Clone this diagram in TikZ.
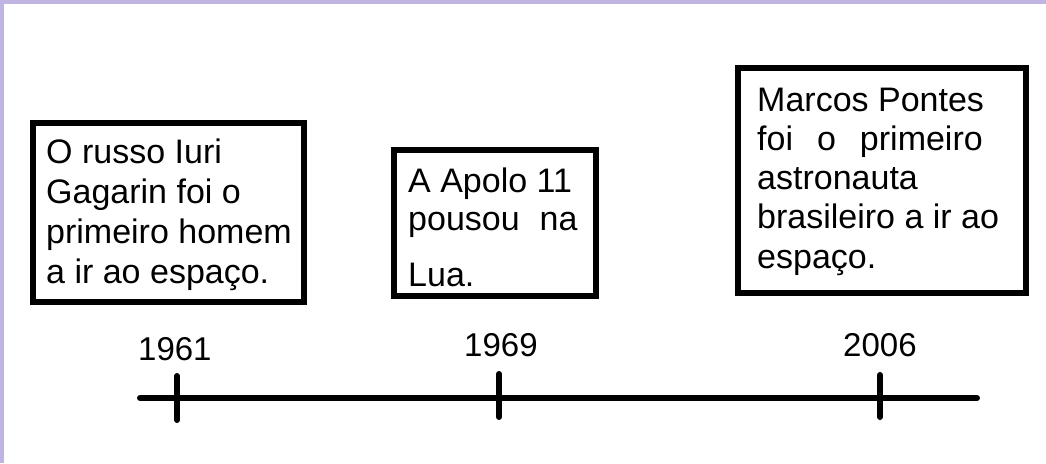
\documentclass[tikz,border=0pt]{standalone}
\usepackage{fontspec}
\setmainfont{Liberation Sans}
\definecolor{lavender}{RGB}{192,180,226}
\begin{document}
\begin{tikzpicture}[x=1pt,y=-1pt,
  eventbox/.style={draw=black,line width=6pt,fill=white,rectangle,inner sep=0pt},
  boxtext/.style={anchor=base west,inner sep=0pt,font=\fontsize{34}{40}\selectfont},
  yeartext/.style={anchor=base west,inner sep=0pt,font=\fontsize{33}{40}\selectfont},
  axis/.style={line width=6pt,line cap=round},
  tick/.style={line width=6pt,line cap=round}]
\useasboundingbox (0,0) rectangle (1046,463);
\fill[white] (0,0) rectangle (1046,463);
\fill[lavender] (0,0) rectangle (1046,4);
\fill[lavender] (0,0) rectangle (4,463);
% boxes
\node[eventbox,minimum width=271pt,minimum height=179pt] (b1) at (168.5,212.5) {};
\node[eventbox,minimum width=202pt,minimum height=146pt] (b2) at (495,223) {};
\node[eventbox,minimum width=288pt,minimum height=225pt] (b3) at (882,180.5) {};
% box 1 text
\node[boxtext] (t1a) at (46,163) {O russo Iuri};
\node[boxtext] (t1b) at (46,203) {Gagarin foi o};
\node[boxtext] (t1c) at (46,243) {primeiro homem};
\node[boxtext] (t1d) at (46,283) {a ir ao espaço.};
% box 2 text
\node[boxtext] (t2a) at (408,192) {A Apolo 11};
\node[boxtext] (t2b) at (408,230) {pousou\hspace{20pt}na};
\node[boxtext] (t2c) at (408,286) {Lua.};
% box 3 text
\node[boxtext] (t3a) at (757,111) {Marcos Pontes};
\node[boxtext] (t3b) at (757,150) {foi\hspace{24pt}o\hspace{24pt}primeiro};
\node[boxtext] (t3c) at (757,189) {astronauta};
\node[boxtext] (t3d) at (757,228) {brasileiro a ir ao};
\node[boxtext] (t3e) at (757,268) {espaço.};
% years
\node[yeartext] (y1) at (138,360) {1961};
\node[yeartext] (y2) at (464,356) {1969};
\node[yeartext] (y3) at (843,356) {2006};
% timeline
\coordinate (ls) at (140,398);
\coordinate (le) at (977,398);
\draw[axis] (ls) -- (le);
\coordinate (k1t) at (177,376);
\coordinate (k1b) at (177,420);
\coordinate (k2t) at (499,374);
\coordinate (k2b) at (499,417);
\coordinate (k3t) at (880,375);
\coordinate (k3b) at (880,417);
\draw[tick] (k1t) -- (k1b);
\draw[tick] (k2t) -- (k2b);
\draw[tick] (k3t) -- (k3b);
\end{tikzpicture}
\end{document}
